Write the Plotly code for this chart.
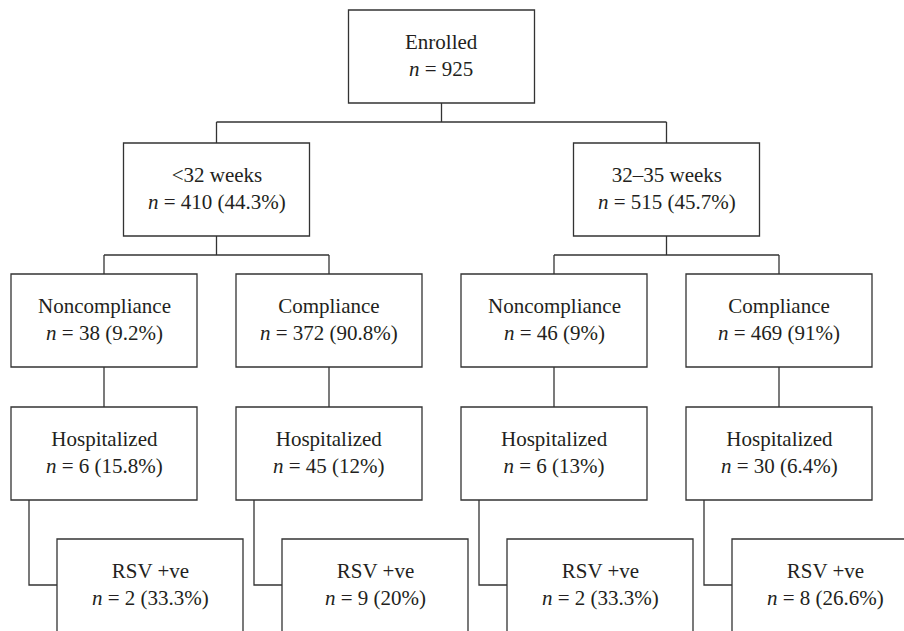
import plotly.graph_objects as go

# ---- data ----
titles = ["Enrolled",
          "<32 weeks", "32–35 weeks",
          "Noncompliance", "Compliance", "Noncompliance", "Compliance",
          "Hospitalized", "Hospitalized", "Hospitalized", "Hospitalized",
          "RSV +ve", "RSV +ve", "RSV +ve", "RSV +ve"]
counts = [925, 410, 515, 38, 372, 46, 469, 6, 45, 6, 30, 2, 9, 2, 8]
percents = [None, "44.3", "45.7", "9.2", "90.8", "9", "91",
            "15.8", "12", "13", "6.4", "33.3", "20", "33.3", "26.6"]
parents = [None, 0, 0, 1, 1, 2, 2, 3, 4, 5, 6, 7, 8, 9, 10]

# ---- layout (pixels) ----
W, H = 904, 631
BW, BH = 186, 93
level_of = [0, 1, 1, 2, 2, 2, 2, 3, 3, 3, 3, 4, 4, 4, 4]
level_top = [10, 143, 274, 407, 539]
leaf_cx = [104, 329, 554, 779]
LINE = "#333333"
FONT = "Liberation Serif"

cx = [0.0] * len(titles)
for i in range(3, 11):
    cx[i] = leaf_cx[(i - 3) % 4]
cx[1] = (cx[3] + cx[4]) / 2
cx[2] = (cx[5] + cx[6]) / 2
cx[0] = (cx[1] + cx[2]) / 2
for i in range(11, 15):
    cx[i] = cx[parents[i]] + 46

fig = go.Figure()
shapes = []
annotations = []
for i, t in enumerate(titles):
    top = level_top[level_of[i]]
    x0 = cx[i] - BW / 2
    shapes.append(dict(type="rect", xref="x", yref="y", x0=x0, x1=x0 + BW,
                       y0=top, y1=top + BH, line=dict(color=LINE, width=1.3),
                       fillcolor="white", layer="above"))
    line2 = f"<i>n</i> = {counts[i]}" + (f" ({percents[i]}%)" if percents[i] else "")
    annotations.append(dict(x=cx[i], y=top + BH / 2 - 1, xref="x", yref="y",
                            text=f"{t}<br>{line2}", showarrow=False,
                            font=dict(family=FONT, size=21, color="#231f20")))

xs, ys = [], []
# branching connectors (levels 0->1, 1->2)
for p in [0, 1, 2]:
    kids = [k for k in range(len(titles)) if parents[k] == p]
    pb = level_top[level_of[p]] + BH
    kt = level_top[level_of[kids[0]]]
    mid = pb + 19
    xs += [cx[p], cx[p], None, cx[kids[0]], cx[kids[-1]], None]
    ys += [pb, mid, None, mid, mid, None]
    for k in kids:
        xs += [cx[k], cx[k], None]
        ys += [mid, kt, None]
# straight connectors level 2->3
for k in range(7, 11):
    p = parents[k]
    xs += [cx[p], cx[k], None]
    ys += [level_top[2] + BH, level_top[3], None]
# elbow connectors level 3->4
for k in range(11, 15):
    p = parents[k]
    ex = cx[p] - BW / 2 + 18
    ey = level_top[4] + 46
    xs += [ex, ex, cx[k] - BW / 2, None]
    ys += [level_top[3] + BH, ey, ey, None]

fig.add_trace(go.Scatter(x=xs, y=ys, mode="lines", line=dict(color=LINE, width=1.3),
                         hoverinfo="skip", showlegend=False))

fig.update_layout(width=W, height=H, margin=dict(l=0, r=0, t=0, b=0),
                  paper_bgcolor="white", plot_bgcolor="white",
                  font=dict(family=FONT),
                  shapes=shapes, annotations=annotations,
                  xaxis=dict(range=[0, W], visible=False, fixedrange=True),
                  yaxis=dict(range=[H, 0], visible=False, fixedrange=True))
fig.write_html("out.html", config={"displayModeBar": False},
               post_script="document.body.style.margin='0px';document.body.style.padding='0px';")
